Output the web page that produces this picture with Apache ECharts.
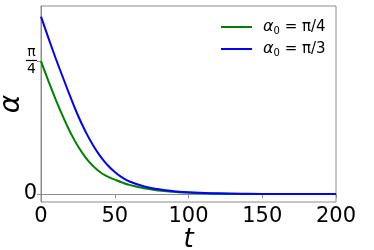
<!DOCTYPE html>
<html>
<head>
<meta charset="utf-8">
<style>html,body{margin:0;padding:0;background:#fff;}#c{width:374px;height:250px;}</style>
<script src="https://cdn.jsdelivr.net/npm/echarts@6/dist/echarts.min.js"></script>
</head>
<body>
<div id="c"></div>
<script>
const tValues = [0,5,10,15,20,25,30,35,40,45,50,55,60,70,80,90,100,120,140,160,180,200];
const greenValues = [0.785,0.668,0.558,0.455,0.362,0.283,0.218,0.168,0.13,0.104,0.085,0.068,0.054,0.034,0.021,0.013,0.007,0.002,0.0005,0,0,0];
const blueValues = [1.047,0.922,0.80,0.685,0.572,0.465,0.372,0.292,0.225,0.172,0.13,0.098,0.074,0.045,0.028,0.017,0.010,0.004,0.001,0,0,0];
const seriesNames = ['α0 = π/4', 'α0 = π/3'];
const xTicks = [0,50,100,150,200];
const yTicks = [0, Math.PI/4];

const chart = echarts.init(document.getElementById('c'), null, {renderer:'canvas'});
const axisColor = '#8c8c8c';
const font = 'DejaVu Sans';
function pairs(vals){ return tValues.map((t,i)=>[t, vals[i]]); }
chart.setOption({
  animation:false,
  backgroundColor:'#fff',
  grid:{left:41, right:38, top:6, bottom:48, show:true, borderColor:axisColor, borderWidth:1,
        containLabel:false, outerBoundsMode:'none'},
  legend:{
    orient:'vertical', left:216, top:14, itemGap:5,
    icon:'rect', itemWidth:31, itemHeight:2,
    data:seriesNames,
    formatter:function(n){ return n.indexOf('π/4')>=0 ? '{a|α}{s|0}{b| = π/4}' : '{a|α}{s|0}{b| = π/3}'; },
    textStyle:{
      fontFamily:font, fontSize:15, color:'#000',
      rich:{
        a:{fontFamily:font, fontStyle:'italic', fontSize:16, padding:[0,0,0,6], height:18},
        s:{fontFamily:font, fontSize:10, verticalAlign:'bottom', padding:[6,0,0,0]},
        b:{fontFamily:font, fontSize:15}
      }
    }
  },
  xAxis:{
    type:'value', min:0, max:200, interval:50,
    name:'t', nameLocation:'middle', nameGap:25, nameMoveOverlap:false,
    nameTextStyle:{fontFamily:font, fontStyle:'italic', fontSize:26, color:'#000'},
    axisLine:{show:true, lineStyle:{color:axisColor}},
    axisTick:{show:true, length:4, lineStyle:{color:axisColor}},
    axisLabel:{fontFamily:font, fontSize:21, color:'#000', margin:4,
      customValues:xTicks, formatter:v=>String(v)},
    splitLine:{show:false}
  },
  yAxis:{
    type:'value', min:-0.047, max:1.11,
    name:'α', nameLocation:'middle', nameGap:15, nameMoveOverlap:false,
    nameTextStyle:{fontFamily:font, fontStyle:'italic', fontSize:28, color:'#000'},
    axisLine:{show:true, lineStyle:{color:axisColor}},
    axisTick:{show:true, length:4, lineStyle:{color:axisColor}, customValues:yTicks},
    axisLabel:{fontFamily:font, color:'#000', margin:4, customValues:yTicks,
      formatter:function(v){ return Math.abs(v)<1e-6 ? '{z|0}' : '{n|π}\n{bar|}\n{d|4}'; },
      rich:{
        z:{fontFamily:font, fontSize:21, color:'#000'},
        n:{fontFamily:font, fontSize:14, color:'#000', align:'center', lineHeight:14},
        bar:{width:11, height:1.2, backgroundColor:'#000', align:'center', lineHeight:3},
        d:{fontFamily:font, fontSize:14, color:'#000', align:'center', lineHeight:15}
      }
    },
    splitLine:{show:false}
  },
  series:[
    {name:seriesNames[0], type:'line', data:pairs(greenValues), showSymbol:false, smooth:0.5,
     lineStyle:{color:'#008000', width:2}, itemStyle:{color:'#008000'}, z:2},
    {name:seriesNames[1], type:'line', data:pairs(blueValues), showSymbol:false, smooth:0.5,
     lineStyle:{color:'#0000ff', width:2}, itemStyle:{color:'#0000ff'}, z:3}
  ]
});
</script>
</body>
</html>
